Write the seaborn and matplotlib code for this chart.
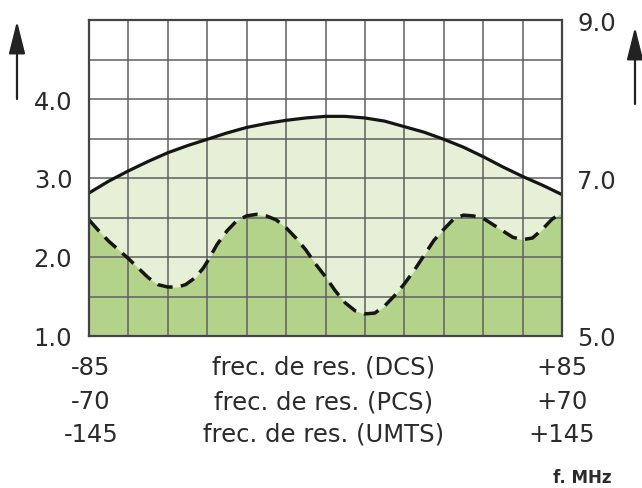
import numpy as np
import matplotlib
matplotlib.use('Agg')
import matplotlib.pyplot as plt
import seaborn as sns

# Curves (x = grid column 0..12, y on the left scale)
x_upper = [0, 0.5, 1, 1.5, 2, 2.5, 3, 3.5, 4, 4.5, 5, 5.5, 6, 6.5, 7, 7.5, 8, 8.5, 9, 9.5, 10, 10.5, 11, 11.5, 12]
y_upper = [2.81, 2.96, 3.09, 3.21, 3.32, 3.41, 3.49, 3.57, 3.64, 3.69, 3.73, 3.76, 3.78, 3.78, 3.76, 3.72, 3.65, 3.58, 3.49, 3.39, 3.27, 3.14, 3.02, 2.91, 2.79]

x_lower = [0, 0.25, 0.5, 0.75, 1, 1.25, 1.5, 1.75, 2, 2.25, 2.45, 2.7, 2.9,
           3, 3.25, 3.5, 3.75, 4, 4.25, 4.5, 4.75, 5, 5.25, 5.5, 5.75,
           6, 6.25, 6.5, 6.75, 7, 7.25, 7.5, 7.75, 8, 8.25, 8.5, 8.75,
           9, 9.25, 9.5, 9.75, 10, 10.25, 10.5, 10.75, 11, 11.25, 11.5, 11.75, 12]
y_lower = [2.47, 2.33, 2.20, 2.09, 1.98, 1.86, 1.74, 1.65, 1.62, 1.62, 1.65, 1.74, 1.86,
           1.94, 2.16, 2.33, 2.46, 2.52, 2.54, 2.52, 2.47, 2.37, 2.24, 2.09, 1.91,
           1.75, 1.57, 1.42, 1.32, 1.28, 1.29, 1.38, 1.51, 1.66, 1.83, 2.02, 2.21,
           2.35, 2.48, 2.53, 2.52, 2.49, 2.41, 2.33, 2.25, 2.22, 2.24, 2.35, 2.48, 2.56]

left_ticks = [1.0, 2.0, 3.0, 4.0]
right_ticks = [5.0, 7.0, 9.0]

row_labels = ['frec. de res. (DCS)', 'frec. de res. (PCS)', 'frec. de res. (UMTS)']
left_vals = ['-85', '-70', '-145']
right_vals = ['+85', '+70', '+145']

sns.set_style('white')
plt.rcParams['font.family'] = ['DejaVu Sans']

txt = '#2b2b2b'
dark_green = '#b4d38a'
light_green = '#e6f0d6'
grid_col = '#5f5f5f'
fs = 17.5

fig = plt.figure(figsize=(6.42, 4.89), dpi=100)
ax = fig.add_axes([89 / 642, 1 - 337 / 489, 473 / 642, 316 / 489])

ax.fill_between(x_upper, 1.0, y_upper, color=light_green, zorder=1, linewidth=0)
ax.fill_between(x_lower, 1.0, y_lower, color=dark_green, zorder=1.1, linewidth=0)

sns.lineplot(x=x_upper, y=y_upper, ax=ax, color='#151515', linewidth=2.3, zorder=4)
sns.lineplot(x=x_lower, y=y_lower, ax=ax, color='#151515', linewidth=2.5,
             linestyle=(0, (4.4, 2.4)), zorder=4)

ax.set_xlim(0, 12)
ax.set_ylim(1, 5)
ax.set_xticks(range(13))
ax.set_xticklabels([])
ax.set_yticks(np.arange(1, 5.01, 0.5))
ax.set_yticklabels(['%.1f' % v if v in left_ticks else '' for v in np.arange(1, 5.01, 0.5)],
                   fontsize=fs, color=txt)
ax.tick_params(length=0, pad=12)
ax.set_axisbelow(False)
ax.grid(True, color=grid_col, linewidth=1.1, zorder=2)
for s in ax.spines.values():
    s.set_color('#444444')
    s.set_linewidth(1.6)
    s.set_zorder(5)

ax2 = ax.twinx()
ax2.set_ylim(5, 9)
ax2.set_yticks(right_ticks)
ax2.set_yticklabels(['%.1f' % v for v in right_ticks], fontsize=fs, color=txt)
ax2.tick_params(length=0, pad=11)
for s in ax2.spines.values():
    s.set_visible(False)

# three rows of frequency labels under the plot
tr = ax.get_xaxis_transform()
row_y = [-0.098, -0.206, -0.310]
for ry, lab, lv, rv in zip(row_y, row_labels, left_vals, right_vals):
    ax.text(0.05, ry, lv, transform=tr, ha='center', va='center', fontsize=fs, color=txt)
    ax.text(5.95, ry, lab, transform=tr, ha='center', va='center', fontsize=fs, color=txt)
    ax.text(12, ry, rv, transform=tr, ha='center', va='center', fontsize=fs, color=txt)

fig.text(582 / 642, 1 - 478 / 489, 'f. MHz', ha='center', va='center',
         fontsize=12, fontweight='bold', color=txt)

# arrows beside both scales
for xa, y0, y1 in [(17, 100, 22), (635, 105, 28)]:
    fig.patches.append(matplotlib.patches.FancyArrowPatch(
        (xa / 642, 1 - y0 / 489), (xa / 642, 1 - y1 / 489),
        transform=fig.transFigure, arrowstyle='-|>,head_length=1.0,head_width=0.25',
        mutation_scale=20, color='#222222', linewidth=1.6, shrinkA=0, shrinkB=0))

plt.savefig('out.png', dpi=100)
plt.close()
